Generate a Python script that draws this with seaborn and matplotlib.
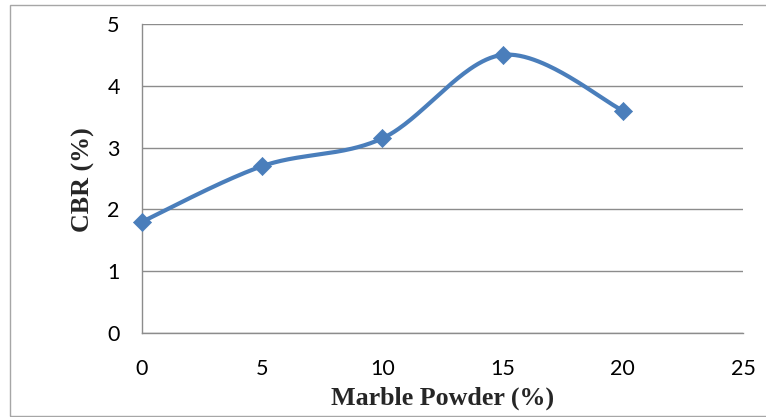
import numpy as np
import pandas as pd
import matplotlib
matplotlib.use("Agg")
import matplotlib.pyplot as plt
import seaborn as sns
from matplotlib.patches import Rectangle

# Data
marble_powder = [0, 5, 10, 15, 20]
cbr = [1.8, 2.7, 3.15, 4.5, 3.6]
x_ticks = [0, 5, 10, 15, 20, 25]
y_ticks = [0, 1, 2, 3, 4, 5]
x_label = "Marble Powder (%)"
y_label = "CBR (%)"

LINE_COLOR = "#4a7ebb"
GRID_COLOR = "#8c8c8c"


def smooth_curve(xs, ys, n=60):
    """Excel-like smoothed line: cubic Bezier segments with Catmull-Rom control points."""
    pts = np.column_stack([xs, ys]).astype(float)
    out = []
    m = len(pts)
    for i in range(m - 1):
        p0 = pts[i - 1] if i > 0 else pts[i]
        p1 = pts[i]
        p2 = pts[i + 1]
        p3 = pts[i + 2] if i + 2 < m else pts[i + 1]
        c1 = p1 + (p2 - p0) / 6.0
        c2 = p2 - (p3 - p1) / 6.0
        t = np.linspace(0, 1, n)[:, None]
        seg = ((1 - t) ** 3) * p1 + 3 * ((1 - t) ** 2) * t * c1 + 3 * (1 - t) * t ** 2 * c2 + t ** 3 * p2
        if i > 0:
            seg = seg[1:]
        out.append(seg)
    return np.vstack(out)


df = pd.DataFrame({"x": marble_powder, "y": cbr})
curve = smooth_curve(marble_powder, cbr)
curve_df = pd.DataFrame({"x": curve[:, 0], "y": curve[:, 1], "order": np.arange(len(curve))})

sns.set_theme(style="white")
plt.rcParams["font.family"] = ["Lato", "DejaVu Sans"]

fig = plt.figure(figsize=(7.66, 4.17), dpi=100)
ax = fig.add_axes([142 / 766, 1 - 333 / 417, (743 - 142) / 766, (333 - 24) / 417])

sns.lineplot(data=curve_df, x="x", y="y", sort=False, color=LINE_COLOR, linewidth=3.0,
             ax=ax, zorder=3, estimator=None)
sns.scatterplot(data=df, x="x", y="y", marker="D", s=85, color=LINE_COLOR,
                edgecolor=LINE_COLOR, linewidth=0.5, ax=ax, zorder=4, clip_on=False)

ax.set_xlim(0, 25)
ax.set_ylim(0, 5)
ax.set_xticks(x_ticks)
ax.set_yticks(y_ticks)
ax.set_xticklabels([str(v) for v in x_ticks])
ax.set_yticklabels([str(v) for v in y_ticks])
ax.tick_params(axis="both", length=0, labelsize=15.5, colors="black")
ax.tick_params(axis="x", pad=19)
ax.tick_params(axis="y", pad=16)

ax.yaxis.grid(True, color=GRID_COLOR, linewidth=1.0)
ax.xaxis.grid(False)
for side in ["top", "right"]:
    ax.spines[side].set_visible(False)
for side in ["left", "bottom"]:
    ax.spines[side].set_color(GRID_COLOR)
    ax.spines[side].set_linewidth(1.0)

label_font = dict(family=["Liberation Serif", "DejaVu Serif"], weight="bold", size=18.7)
ax.set_xlabel(x_label, fontdict=label_font)
ax.set_ylabel(y_label, fontdict=label_font)
ax.xaxis.set_label_coords(0.5, -0.21)
ax.xaxis.label.set_va("center")
ax.yaxis.set_label_coords(-0.098, 0.495)
ax.yaxis.label.set_va("center")

# outer chart frame
fig.patches.append(Rectangle((10 / 766, 1 / 417), 1.0, 1 - 6 / 417, transform=fig.transFigure,
                             fill=False, edgecolor="#a6a6a6", linewidth=1.0, clip_on=False))

fig.savefig("out.png", dpi=100)
